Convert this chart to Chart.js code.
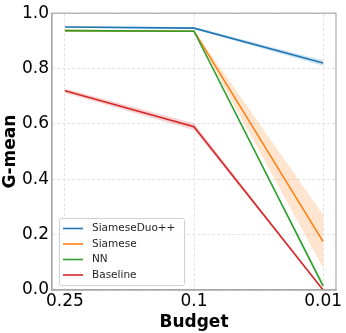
<!DOCTYPE html>
<html>
<head>
<meta charset="utf-8">
<script src="https://cdn.jsdelivr.net/npm/chart.js@4.4.0/dist/chart.umd.min.js"></script>
<style>
  html, body { margin: 0; padding: 0; background: #ffffff; }
  #wrap { width: 346px; height: 333px; position: relative; }
</style>
</head>
<body>
<div id="wrap"><canvas id="c" width="346" height="333"></canvas></div>
<script>
// ---- data ----
const budgets = ['0.25', '0.1', '0.01'];
const seriesNames = ['SiameseDuo++', 'Siamese', 'NN', 'Baseline'];
const seriesColors = ['#1f77b4', '#ff7f0e', '#2ca02c', '#d62728'];
const siameseDuo = [0.950, 0.946, 0.820];
const siameseDuoLow = [0.947, 0.942, 0.810];
const siameseDuoHigh = [0.953, 0.950, 0.830];
const siamese = [0.937, 0.935, 0.175];
const siameseLow = [0.935, 0.932, 0.080];
const siameseHigh = [0.940, 0.938, 0.272];
const nn = [0.937, 0.935, 0.015];
const nnLow = [0.935, 0.933, 0.005];
const nnHigh = [0.939, 0.937, 0.025];
const baseline = [0.720, 0.590, 0.000];
const baselineLow = [0.712, 0.578, 0.000];
const baselineHigh = [0.728, 0.602, 0.004];
const yTicks = [0.0, 0.2, 0.4, 0.6, 0.8, 1.0];

function pts(arr) { return arr.map((v, i) => ({ x: i, y: v })); }
function hexA(hex, a) {
  const n = parseInt(hex.slice(1), 16);
  return `rgba(${(n >> 16) & 255},${(n >> 8) & 255},${n & 255},${a})`;
}

const lines = [siameseDuo, siamese, nn, baseline];
const lows = [siameseDuoLow, siameseLow, nnLow, baselineLow];
const highs = [siameseDuoHigh, siameseHigh, nnHigh, baselineHigh];

const datasets = [];
for (let s = 0; s < 4; s++) {
  datasets.push({
    label: '_low' + s, data: pts(lows[s]), borderWidth: 0, pointRadius: 0,
    fill: false, order: 20 + s, isBand: true
  });
  datasets.push({
    label: '_high' + s, data: pts(highs[s]), borderWidth: 0, pointRadius: 0,
    backgroundColor: hexA(seriesColors[s], 0.2), fill: '-1', order: 20 + s, isBand: true
  });
}
for (let s = 0; s < 4; s++) {
  datasets.push({
    label: seriesNames[s], data: pts(lines[s]), borderColor: seriesColors[s],
    borderWidth: 1.6, pointRadius: 0, fill: false, tension: 0, order: 3 - s
  });
}

const legendPlugin = {
  id: 'insideLegend',
  afterDraw(chart) {
    const ctx = chart.ctx;
    const ca = chart.chartArea;
    const x0 = ca.left + 7, y1 = ca.bottom - 5;
    const w = 125, h = 67;
    const y0 = y1 - h;
    ctx.save();
    ctx.fillStyle = 'rgba(255,255,255,0.85)';
    ctx.strokeStyle = '#d0d0d0';
    ctx.lineWidth = 1;
    ctx.beginPath();
    if (ctx.roundRect) ctx.roundRect(x0 + 0.5, y0 + 0.5, w, h, 2); else ctx.rect(x0 + 0.5, y0 + 0.5, w, h);
    ctx.fill(); ctx.stroke();
    ctx.font = '10.5px "DejaVu Sans"';
    ctx.textBaseline = 'middle';
    ctx.textAlign = 'left';
    const lineDs = chart.data.datasets.filter(d => !d.isBand);
    lineDs.forEach((d, i) => {
      const yy = y0 + 10.5 + i * 15.5;
      ctx.strokeStyle = d.borderColor;
      ctx.lineWidth = 1.6;
      ctx.beginPath(); ctx.moveTo(x0 + 4, yy); ctx.lineTo(x0 + 24, yy); ctx.stroke();
      ctx.fillStyle = '#262626';
      ctx.fillText(d.label, x0 + 33, yy);
    });
    ctx.restore();
  }
};

new Chart(document.getElementById('c'), {
  type: 'line',
  data: { datasets },
  plugins: [legendPlugin],
  options: {
    responsive: false,
    animation: false,
    layout: { padding: { top: 9, right: 10, left: 0, bottom: 0 } },
    plugins: { legend: { display: false }, tooltip: { enabled: false } },
    scales: {
      x: {
        type: 'linear', min: -0.1, max: 2.1,
        afterBuildTicks(scale) { scale.ticks = budgets.map((b, i) => ({ value: i })); },
        afterFit(scale) { scale.height = 43; },
        ticks: {
          callback: (v) => budgets[v] !== undefined ? budgets[v] : '',
          font: { family: 'DejaVu Sans', size: 17 }, color: '#000', padding: 1, maxRotation: 0
        },
        grid: { color: '#e2e2e2', drawTicks: false, lineWidth: 1 },
        border: { color: '#a8a8a8', width: 1.2, dash: [3, 2] },
        title: { display: true, text: 'Budget', font: { family: 'DejaVu Sans', size: 17, weight: 'bold' }, color: '#000', padding: { top: 0, bottom: 0 } }
      },
      y: {
        min: 0, max: 1,
        afterBuildTicks(scale) { scale.ticks = yTicks.map(v => ({ value: v })); },
        afterFit(scale) { scale.width = 52; },
        ticks: {
          callback: (v) => Number(v).toFixed(1),
          font: { family: 'DejaVu Sans', size: 17 }, color: '#000', padding: 3
        },
        grid: { color: '#e2e2e2', drawTicks: false, lineWidth: 1 },
        border: { color: '#a8a8a8', width: 1.2, dash: [3, 2] },
        title: { display: true, text: 'G-mean', font: { family: 'DejaVu Sans', size: 17, weight: 'bold' }, color: '#000', padding: { top: 0, bottom: 0 } }
      }
    }
  },
  plugins: [legendPlugin, {
    id: 'frame',
    afterDraw(chart) {
      const { ctx, chartArea: a } = chart;
      ctx.save();
      ctx.strokeStyle = '#a8a8a8';
      ctx.lineWidth = 1.2;
      ctx.strokeRect(a.left, a.top, a.right - a.left, a.bottom - a.top);
      ctx.restore();
    }
  }]
});
</script>
</body>
</html>
